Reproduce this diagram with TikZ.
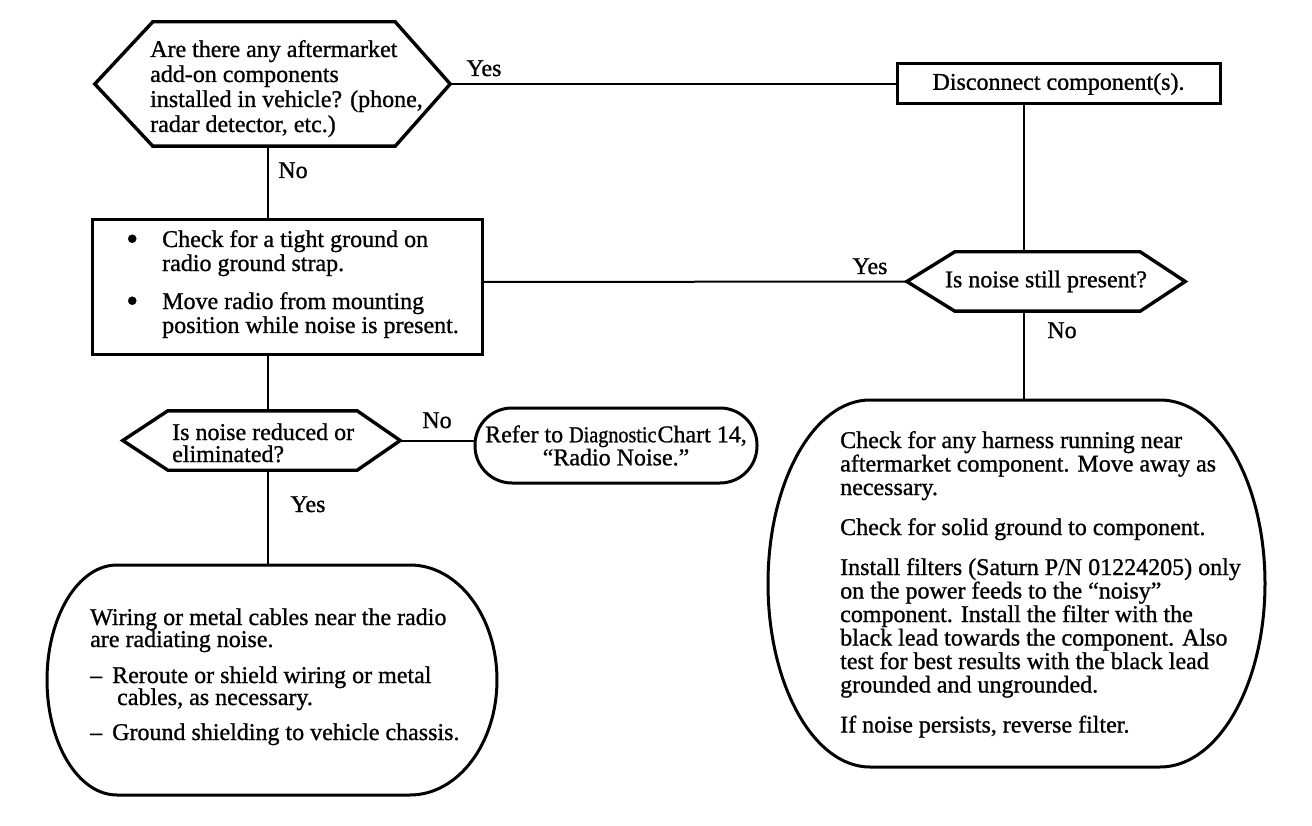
\documentclass[tikz,border=0pt]{standalone}
\usepackage{fontspec}
\usepackage{graphicx}
\setmainfont{Liberation Serif}[FakeBold=1]
\usetikzlibrary{calc}
\newcommand{\bigdot}{\llap{\raisebox{-3pt}{\fontsize{34}{24}\selectfont\textbullet}\hspace{24pt}}}
\begin{document}
\begin{tikzpicture}[x=1pt,y=-1pt,
  every node/.style={inner sep=0pt},
  hexline/.style={line width=3.4pt, line join=miter},
  boxline/.style={draw, line width=3pt},
  conn/.style={line width=2pt},
  body/.style={font=\fontsize{24}{23.5}\selectfont, align=left, anchor=base west},
  lbl/.style={font=\fontsize{24}{24}\selectfont, anchor=base}]
\useasboundingbox (0,0) rectangle (1312,826);

% --- first decision
\node[minimum width=355pt, minimum height=124pt] (q1) at (272.5,84) {};
\draw[hexline] (q1.west) -- ($(q1.north west)+(58,0)$) -- ($(q1.north east)+(-55,0)$) -- (q1.east)
  -- ($(q1.south east)+(-55,0)$) -- ($(q1.south west)+(58,0)$) -- cycle;
\node[body, font=\fontsize{24}{25}\selectfont] (t1) at (150,132)
  {Are there any aftermarket\\add-on components\\installed in vehicle? (phone,\\radar detector, etc.)};

% --- disconnect box
\node[boxline, minimum width=323pt, minimum height=40pt, font=\fontsize{24}{24}\selectfont] (dc) at (1058.5,84)
  {Disconnect component(s).};

% --- bullet box
\node[boxline, minimum width=390pt, minimum height=134pt] (bx) at (287,287) {};
\node[body, font=\fontsize{24}{24}\selectfont] (t2) at (162,333)
  {\bigdot Check for a tight ground on\\radio ground strap.\\[14pt]
   \bigdot Move radio from mounting\\position while noise is present.};

% --- second decision
\node[minimum width=278pt, minimum height=59pt, font=\fontsize{24}{24}\selectfont] (q2) at (1046,281.5)
  {Is noise still present?};
\draw[hexline] (q2.west) -- ($(q2.north west)+(48,0)$) -- ($(q2.north east)+(-45,0)$) -- (q2.east)
  -- ($(q2.south east)+(-45,0)$) -- ($(q2.south west)+(48,0)$) -- cycle;

% --- third decision
\node[minimum width=277pt, minimum height=59pt] (q3) at (261.5,440.5) {};
\draw[hexline] (q3.west) -- ($(q3.north west)+(45,0)$) -- ($(q3.north east)+(-43,0)$) -- (q3.east)
  -- ($(q3.south east)+(-43,0)$) -- ($(q3.south west)+(45,0)$) -- cycle;
\node[body, font=\fontsize{24}{22}\selectfont] (t3) at (172,462) {Is noise reduced or\\eliminated?};

% --- refer oval
\node[boxline, rounded corners=37pt, minimum width=282pt, minimum height=75pt, align=center,
  font=\fontsize{24}{23}\selectfont] (ov) at (616,445.5)
  {Refer to \scalebox{0.84}[0.95]{Diagnostic}\hspace{1pt}Chart 14,\\“Radio Noise.”};

% --- bottom-left terminal
\node[minimum width=450pt, minimum height=230pt] (b1) at (272,680) {};
\draw[line width=3pt] (117,565) -- (410,565)
  .. controls (458,565) and (497,616.5) .. (497,680)
  .. controls (497,743.5) and (458,795) .. (410,795) -- (117,795)
  .. controls (78.3,795) and (47,743.5) .. (47,680)
  .. controls (47,616.5) and (78.3,565) .. (117,565) -- cycle;
\node[body, font=\fontsize{24}{22}\selectfont] (t4) at (90,740)
  {Wiring or metal cables near the radio\\are radiating noise.\\[14pt]
   \makebox[22pt][l]{–}Reroute or shield wiring or metal\\\hspace*{27pt}cables, as necessary.\\[13pt]
   \makebox[22pt][l]{–}Ground shielding to vehicle chassis.};

% --- right terminal
\node[minimum width=497pt, minimum height=367pt] (b2) at (1016.5,583.5) {};
\draw[line width=3pt] (870,400) -- (1160,400)
  .. controls (1218,400) and (1265,482.2) .. (1265,583.5)
  .. controls (1265,684.8) and (1218,767) .. (1160,767) -- (870,767)
  .. controls (813.7,767) and (768,684.8) .. (768,583.5)
  .. controls (768,482.2) and (813.7,400) .. (870,400) -- cycle;
\node[body] (t5) at (840,732.5)
  {Check for any harness running near\\aftermarket component. Move away as\\necessary.\\[16.5pt]
   Check for solid ground to component.\\[16.5pt]
   Install filters (Saturn P/N 01224205) only\\on the power feeds to the “noisy”\\component. Install the filter with the\\black lead towards the component. Also\\test for best results with the black lead\\grounded and ungrounded.\\[16.5pt]
   If noise persists, reverse filter.};

% --- labels
\node[lbl] (l1) at (484,76) {Yes};
\node[lbl] (l2) at (293,178) {No};
\node[lbl] (l3) at (870,274) {Yes};
\node[lbl] (l4) at (1062,338) {No};
\node[lbl] (l5) at (437,428) {No};
\node[lbl] (l6) at (308,512) {Yes};

% --- connectors
\draw[conn] (q1.east) -- (dc.west);
\draw[conn] ([xshift=-4.5pt]q1.south) -- ([xshift=-19pt]bx.north);
\draw[conn] ([xshift=-34.5pt]dc.south) -- ([xshift=-22pt]q2.north);
\draw[conn] ([yshift=5pt]bx.east) -- (q2.west);
\draw[conn] ([xshift=-22pt]q2.south) -- ([xshift=7.5pt]b2.north);
\draw[conn] ([xshift=-19pt]bx.south) -- ([xshift=6.5pt]q3.north);
\draw[conn] (q3.east) -- (q3.east -| ov.west);
\draw[conn] ([xshift=6.5pt]q3.south) -- ([xshift=-4pt]b1.north);
\end{tikzpicture}
\end{document}
